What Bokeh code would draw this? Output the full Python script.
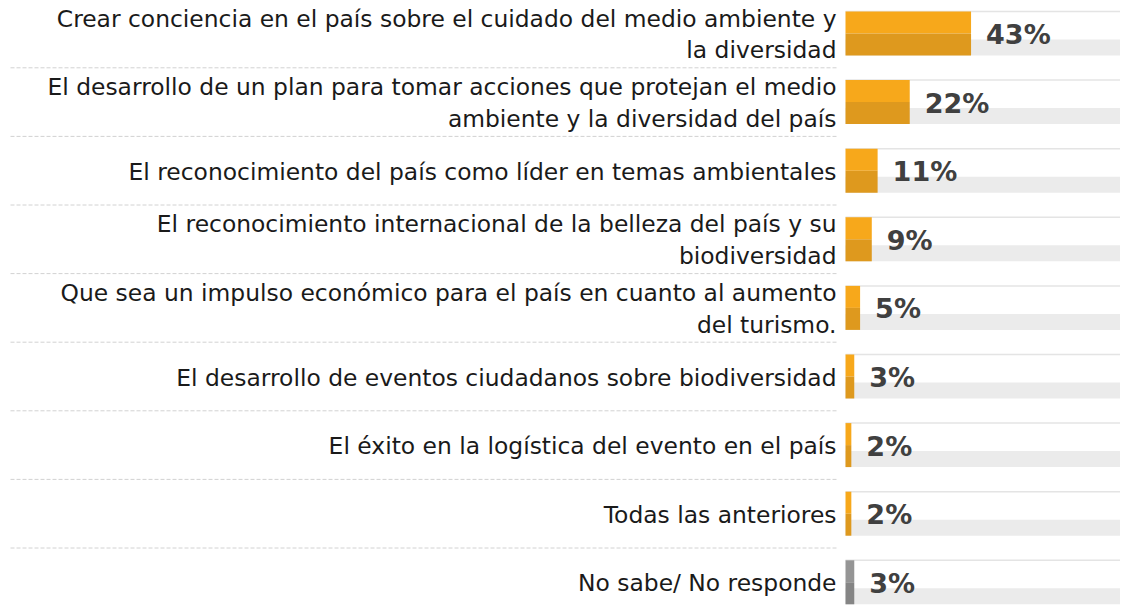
from bokeh.plotting import figure
from bokeh.models import ColumnDataSource, Range1d
from bokeh.core.properties import value
from bokeh.embed import file_html
from bokeh.resources import INLINE

categories = [
    "Crear conciencia en el país sobre el cuidado del medio ambiente y\nla diversidad",
    "El desarrollo de un plan para tomar acciones que protejan el medio\nambiente y la diversidad del país",
    "El reconocimiento del país como líder en temas ambientales",
    "El reconocimiento internacional de la belleza del país y su\nbiodiversidad",
    "Que sea un impulso económico para el país en cuanto al aumento\ndel turismo.",
    "El desarrollo de eventos ciudadanos sobre biodiversidad",
    "El éxito en la logística del evento en el país",
    "Todas las anteriores",
    "No sabe/ No responde",
]
values = [43, 22, 11, 9, 5, 3, 2, 2, 3]
value_labels = ["43%", "22%", "11%", "9%", "5%", "3%", "2%", "2%", "3%"]

top_colors = ["#F7A81B"] * 8 + ["#959595"]
bot_colors = ["#DE991E"] * 8 + ["#858585"]

W, H = 1120, 610
PX_PER_PCT = 2.92
X0_PX = 845          # frame px where 0% sits
ROW_PX = 68.6
ROW0_PX = 33.0       # frame px of first row centre

x_start = -X0_PX / PX_PER_PCT
x_end = (W - X0_PX) / PX_PER_PCT
y_top = -ROW0_PX / ROW_PX
y_bot = y_top + H / ROW_PX

n = len(categories)
ys = list(range(n))
half = 22 / ROW_PX

src = ColumnDataSource(dict(
    y=ys,
    y_up=[y - half / 2 for y in ys],
    y_dn=[y + half / 2 for y in ys],
    y_bg=[y + (6 + 22) / 2 / ROW_PX for y in ys],
    y_line=[y - half for y in ys],
    v=values,
    lab=value_labels,
    cat=categories,
    top=top_colors,
    bot=bot_colors,
))

p = figure(width=W, height=H, output_backend="svg", toolbar_location=None,
           x_range=Range1d(x_start, x_end), y_range=Range1d(y_bot, y_top),
           min_border=0)
p.axis.visible = False
p.grid.visible = False
p.outline_line_color = None
p.background_fill_color = "white"

# background track (lower grey band + thin top line)
p.hbar(y="y_bg", left=0, right=x_end + 5, height=16 / ROW_PX, source=src,
       fill_color="#EBEBEB", line_color=None)
p.segment(x0=0, x1=x_end + 5, y0="y_line", y1="y_line", source=src,
          line_color="#E4E4E4", line_width=1.5)

# bars: upper lighter half, lower darker half
p.hbar(y="y_up", left=0, right="v", height=half, source=src,
       fill_color="top", line_color=None)
p.hbar(y="y_dn", left=0, right="v", height=half, source=src,
       fill_color="bot", line_color=None)

# dashed separators
sep_y = [i + 0.5 for i in range(n - 1)]
p.segment(x0=[(10 - X0_PX) / PX_PER_PCT] * len(sep_y),
          x1=[-7 / PX_PER_PCT] * len(sep_y),
          y0=sep_y, y1=sep_y, line_color="#D2D2D2", line_width=1,
          line_dash="4 2")

# category labels
p.text(x=0, y="y", text="cat", source=src, x_offset=-9, y_offset=1,
       text_align="right", text_baseline="middle",
       text_font=value("DejaVu Sans"), text_font_size="23.4px",
       text_color="#1A1A1A", text_line_height=1.13)

# value labels
p.text(x="v", y="y", text="lab", source=src, x_offset=15, y_offset=1,
       text_align="left", text_baseline="middle",
       text_font=value("DejaVu Sans"), text_font_size="27px",
       text_font_style="bold", text_color="#404040")

open("out.html", "w").write(file_html(p, INLINE))
